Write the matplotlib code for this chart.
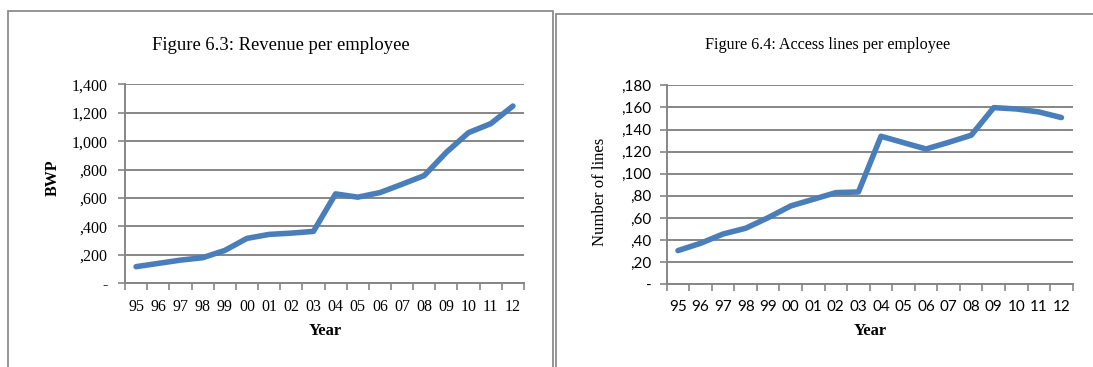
import matplotlib
matplotlib.use("Agg")
import matplotlib.pyplot as plt
from matplotlib.patches import Rectangle

years = ["95", "96", "97", "98", "99", "00", "01", "02", "03",
         "04", "05", "06", "07", "08", "09", "10", "11", "12"]

revenue_per_employee = [117, 140, 163, 180, 231, 316, 344, 353, 365,
                        629, 606, 638, 697, 758, 922, 1060, 1123, 1247]
revenue_ticks = [0, 200, 400, 600, 800, 1000, 1200, 1400]
revenue_tick_labels = ["-", ",200", ",400", ",600", ",800", "1,000", "1,200", "1,400"]

lines_per_employee = [30.5, 37.1, 45.5, 50.7, 60.3, 70.9, 76.9, 82.9, 83.5,
                      133.9, 128.1, 122.4, 128.4, 134.8, 159.8, 158.6, 155.9, 150.8]
lines_ticks = [0, 20, 40, 60, 80, 100, 120, 140, 160, 180]
lines_tick_labels = ["-", ",20", ",40", ",60", ",80", ",100", ",120", ",140", ",160", ",180"]

SERIF = "Liberation Serif"
SANS = "Lato"
LINE_BLUE = "#4A7EBB"
GRID_GRAY = "#868686"
FRAME_GRAY = "#8C8C8C"

W, H = 1093, 367
fig = plt.figure(figsize=(W / 100, H / 100), dpi=100)
fig.patch.set_facecolor("white")


def px_axes(x0, y0, x1, y1):
    return fig.add_axes([x0 / W, 1 - y1 / H, (x1 - x0) / W, (y1 - y0) / H])


def style_axes(ax, values, ticks, labels, tick_font, tick_size, xtick_font, xtick_size, ypad):
    n = len(years)
    centers = [i + 0.5 for i in range(n)]
    ax.plot(centers, values, color=LINE_BLUE, lw=4.0,
            solid_capstyle="round", solid_joinstyle="round", zorder=3)
    ax.set_xlim(0, n)
    ax.set_ylim(ticks[0], ticks[-1])
    ax.set_yticks(ticks)
    ax.set_yticklabels(labels, fontfamily=tick_font, fontsize=tick_size)
    ax.yaxis.grid(True, color=GRID_GRAY, lw=1.4)
    ax.set_axisbelow(True)
    # category boundary ticks, labels centred between them
    ax.set_xticks(range(n + 1))
    ax.set_xticklabels([])
    ax.set_xticks(centers, minor=True)
    ax.set_xticklabels(years, minor=True, fontfamily=xtick_font, fontsize=xtick_size)
    ax.tick_params(axis="x", which="minor", length=0, pad=11)
    ax.tick_params(axis="x", which="major", length=5, width=1.2, color=GRID_GRAY, direction="out")
    ax.tick_params(axis="y", length=5, width=1.2, color=GRID_GRAY, direction="out", pad=ypad)
    for side in ("top", "right"):
        ax.spines[side].set_visible(False)
    for side in ("left", "bottom"):
        ax.spines[side].set_color(GRID_GRAY)
        ax.spines[side].set_linewidth(1.4)


# panel frames
fig.patches.append(Rectangle((8 / W, -0.1), (553 - 8) / W, 1.1 - 11 / H,
                             transform=fig.transFigure, fill=False,
                             edgecolor=FRAME_GRAY, lw=1.3, clip_on=False))
fig.patches.append(Rectangle((556 / W, -0.1), 0.6, 1.1 - 14 / H,
                             transform=fig.transFigure, fill=False,
                             edgecolor=FRAME_GRAY, lw=1.3, clip_on=False))

# Figure 6.3
ax1 = px_axes(125, 84.3, 524, 283.3)
style_axes(ax1, revenue_per_employee, revenue_ticks, revenue_tick_labels,
           SERIF, 11.5, SERIF, 11.5, 7.5)
fig.text(281 / W, 1 - 45.5 / H, "Figure 6.3: Revenue per employee",
         ha="center", va="center", fontfamily=SERIF, fontsize=13.4)
fig.text(53 / W, 1 - 178 / H, "BWP", rotation=90, ha="center", va="center",
         fontfamily=SERIF, fontsize=11.5, fontweight="bold")
fig.text(325 / W, 1 - 331 / H, "Year", ha="center", va="center",
         fontfamily=SERIF, fontsize=12, fontweight="bold")

# Figure 6.4
ax2 = px_axes(666.7, 85.3, 1072.7, 284.3)
style_axes(ax2, lines_per_employee, lines_ticks, lines_tick_labels,
           SANS, 11, SANS, 11, 6)
fig.text(828 / W, 1 - 45 / H, "Figure 6.4: Access lines per employee",
         ha="center", va="center", fontfamily=SERIF, fontsize=11.6)
fig.text(600 / W, 1 - 192 / H, "Number of lines", rotation=90, ha="center", va="center",
         fontfamily=SERIF, fontsize=12)
fig.text(870 / W, 1 - 331 / H, "Year", ha="center", va="center",
         fontfamily=SERIF, fontsize=12, fontweight="bold")

fig.savefig("out.png", dpi=100, facecolor="white")
